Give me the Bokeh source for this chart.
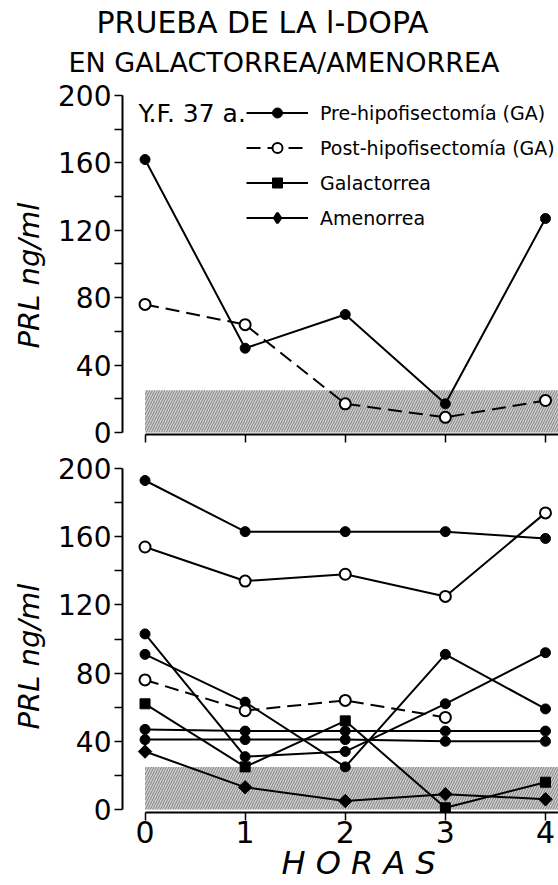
from math import pi
from bokeh.plotting import figure
from bokeh.models import (Range1d, FixedTicker, Label, Legend, LegendItem,
                          BoxAnnotation, ColumnDataSource, Title)
from bokeh.core.properties import value
from bokeh.layouts import column
from bokeh.embed import file_html
from bokeh.resources import INLINE

# ---------------- data ----------------
hours = [0, 1, 2, 3, 4]

# upper panel: patient Y.F. 37 a.
top_pre_ga = [162, 50, 70, 17, 127]
top_post_ga = [76, 64, 17, 9, 19]

# lower panel
bot_pre_a = [193, 163, 163, 163, 159]
bot_post_a = [154, 134, 138, 125, 174]
bot_pre_b = [103, 31, 34, 62, 92]
bot_pre_c = [91, 63, 25, 91, 59]
bot_pre_d = [47, 46, 46, 46, 46]
bot_pre_e = [41, 41, 41, 40, 40]
bot_post_b_hours = [0, 1, 2, 3]
bot_post_b = [76, 58, 64, 54]
galactorrea = [62, 25, 52, 1, 16]
amenorrea = [34, 13, 5, 9, 6]

normal_range = [0, 25]
y_ticks = [0, 40, 80, 120, 160, 200]
y_minor = [20, 60, 100, 140, 180]
x_ticks = [0, 1, 2, 3, 4]

title_1 = "PRUEBA DE LA l-DOPA"
title_2 = "EN GALACTORREA/AMENORREA"
patient = "Y.F. 37 a."
y_label = "PRL ng/ml"
x_label = "H O R A S"
legend_labels = ["Pre-hipofisectomía (GA)", "Post-hipofisectomía (GA)",
                 "Galactorrea", "Amenorrea"]

FONT = "DejaVu Sans"
NAN = float("nan")


def make_fig(height, ymin, ymax, b_top, b_bottom):
    p = figure(width=558, height=height,
               x_range=Range1d(-0.225, 4.13), y_range=Range1d(ymin, ymax),
               output_backend="svg", toolbar_location=None,
               min_border_left=121, min_border_right=0,
               min_border_top=b_top, min_border_bottom=b_bottom)
    p.outline_line_color = None
    p.grid.visible = False
    band = BoxAnnotation(left=0, bottom=normal_range[0], top=normal_range[1],
                         fill_color="#d0d0d0", fill_alpha=1.0,
                         hatch_pattern="/", hatch_color="#6a6a6a",
                         hatch_alpha=1.0, hatch_scale=5, hatch_weight=0.8,
                         line_color=None, level="underlay")
    p.add_layout(band)
    ya = p.yaxis[0]
    ya.ticker = FixedTicker(ticks=y_ticks, minor_ticks=y_minor)
    ya.bounds = (0, 200)
    ya.axis_line_width = 2
    ya.major_tick_in = 0
    ya.major_tick_out = 8
    ya.minor_tick_in = 0
    ya.minor_tick_out = 8
    ya.major_tick_line_width = 1.5
    ya.minor_tick_line_width = 1.5
    ya.major_label_standoff = 3
    ya.major_label_text_font = FONT
    ya.major_label_text_font_size = "28px"
    ya.major_label_text_color = "black"
    xa = p.xaxis[0]
    xa.ticker = FixedTicker(ticks=x_ticks, minor_ticks=[])
    xa.bounds = (0, 4.3)
    xa.axis_line_width = 2
    xa.major_tick_in = 0
    xa.major_tick_out = 8
    xa.major_tick_line_width = 1.5
    xa.minor_tick_line_color = None
    xa.major_label_standoff = 0
    xa.major_label_text_font = FONT
    xa.major_label_text_font_size = "30px"
    xa.major_label_text_color = "black"
    return p


def lines(p, xs, ys, dash="solid"):
    src = ColumnDataSource(dict(x=xs, y=ys))
    return p.line("x", "y", source=src, line_color="black", line_width=2,
                  line_dash=dash)


def marks(p, xs, ys, kind):
    src = ColumnDataSource(dict(x=xs, y=ys))
    if kind == "filled":
        return p.scatter("x", "y", source=src, marker="circle", size=10,
                         fill_color="black", line_color="black", line_width=1)
    if kind == "open":
        return p.scatter("x", "y", source=src, marker="circle", size=11,
                         fill_color="white", line_color="black", line_width=2)
    if kind == "square":
        return p.scatter("x", "y", source=src, marker="square", size=10,
                         fill_color="black", line_color="black", line_width=1)
    if kind == "legend_diamond":
        return p.scatter("x", "y", source=src, marker="diamond", size=10,
                         fill_color="black", line_color="black",
                         line_width=2.5)
    return p.scatter("x", "y", source=src, marker="square", size=9.5,
                     angle=pi / 4, fill_color="black", line_color="black",
                     line_width=1)


def y_title(p, offset):
    p.add_layout(Title(text=y_label, align="left", offset=offset,
                       standoff=19, text_font=FONT, text_font_style="italic",
                       text_font_size="29px", text_color="black"), "left")


# ---------------- upper panel ----------------
p1 = make_fig(450, -1.2, 208.9, 80, 16)
p1.xaxis[0].major_label_overrides = {t: "" for t in x_ticks}
p1.xaxis[0].major_label_text_font_size = "0px"

l_pre = lines(p1, hours, top_pre_ga)
l_post = lines(p1, hours, top_post_ga, "14 7")
l_gal = lines(p1, [NAN], [NAN])
l_am = lines(p1, [NAN], [NAN])
s_pre = marks(p1, hours, top_pre_ga, "filled")
s_post = marks(p1, hours, top_post_ga, "open")
s_gal = marks(p1, [NAN], [NAN], "square")
s_am = marks(p1, [NAN], [NAN], "legend_diamond")

legend = Legend(items=[
    LegendItem(label=value(legend_labels[0]), renderers=[l_pre, s_pre]),
    LegendItem(label=value(legend_labels[1]), renderers=[l_post, s_post]),
    LegendItem(label=value(legend_labels[2]), renderers=[l_gal, s_gal]),
    LegendItem(label=value(legend_labels[3]), renderers=[l_am, s_am]),
], location=(124, 204), glyph_width=62, glyph_height=25, label_height=25,
    spacing=10, padding=0, margin=0, label_standoff=12,
    label_text_font=FONT, label_text_font_size="19px",
    label_text_color="black", border_line_color=None,
    background_fill_alpha=0)
p1.add_layout(legend)

# title lines (first added sits closest to the frame)
p1.add_layout(Title(text=title_2, align="left", offset=-54, standoff=6,
                    text_font=FONT, text_font_style="normal",
                    text_font_size="27px", text_color="black"), "above")
p1.add_layout(Title(text=title_1, align="left", offset=-26, standoff=4,
                    text_font=FONT, text_font_style="normal",
                    text_font_size="30px", text_color="black"), "above")

p1.add_layout(Label(x=-0.066, y=189.3, text=patient, text_align="left",
                    text_baseline="alphabetic", text_font=FONT,
                    text_font_size="25px", text_color="black"))
y_title(p1, 86)

# ---------------- lower panel ----------------
p2 = make_fig(435, -1.76, 205.9, 8, 73)

solid_sets = [bot_pre_a, bot_post_a, bot_pre_b, bot_pre_c, bot_pre_d,
              bot_pre_e, galactorrea, amenorrea]
for ys in solid_sets:
    lines(p2, hours, ys)
lines(p2, bot_post_b_hours, bot_post_b, "14 7")

marks(p2, hours, bot_pre_a, "filled")
marks(p2, hours, bot_post_a, "open")
marks(p2, hours, bot_pre_b, "filled")
marks(p2, hours, bot_pre_c, "filled")
marks(p2, hours, bot_pre_d, "filled")
marks(p2, hours, bot_pre_e, "filled")
marks(p2, bot_post_b_hours, bot_post_b, "open")
marks(p2, hours, galactorrea, "square")
marks(p2, hours, amenorrea, "diamond")

y_title(p2, 83)
p2.add_layout(Title(text=x_label, align="left", offset=159, standoff=-7,
                    text_font=FONT, text_font_style="italic",
                    text_font_size="32px", text_color="black"), "below")

layout = column(p1, p2, spacing=0)
open("out.html", "w").write(file_html(layout, INLINE))
